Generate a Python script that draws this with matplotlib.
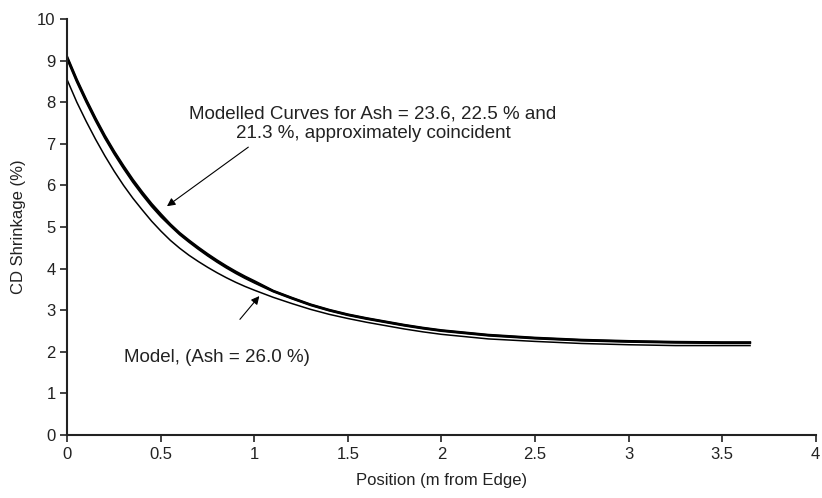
import numpy as np
import matplotlib
matplotlib.use("Agg")
import matplotlib.pyplot as plt

plt.rcParams["font.family"] = ["Liberation Sans", "DejaVu Sans"]

# position across the sheet (m from edge)
position = [0.0, 0.05, 0.1, 0.15, 0.2, 0.25, 0.3, 0.35, 0.4, 0.45, 0.5,
            0.55, 0.6, 0.65, 0.7, 0.75, 0.8, 0.85, 0.9, 0.95, 1.0,
            1.1, 1.2, 1.3, 1.4, 1.5, 1.6, 1.7, 1.8, 1.9, 2.0,
            2.25, 2.5, 2.75, 3.0, 3.25, 3.5, 3.65]

# modelled CD shrinkage (%) for each ash content
ash_23_6 = [9.08, 8.55, 8.07, 7.62, 7.20, 6.82, 6.47, 6.14, 5.84, 5.56, 5.31,
            5.07, 4.86, 4.68, 4.51, 4.35, 4.20, 4.06, 3.93, 3.81, 3.70,
            3.47, 3.30, 3.14, 3.01, 2.90, 2.81, 2.73, 2.65, 2.58, 2.52,
            2.41, 2.34, 2.29, 2.26, 2.24, 2.23, 2.23]
ash_22_5 = [9.05, 8.52, 8.04, 7.59, 7.17, 6.79, 6.44, 6.11, 5.81, 5.53, 5.28,
            5.05, 4.84, 4.66, 4.49, 4.33, 4.18, 4.04, 3.91, 3.79, 3.68,
            3.46, 3.29, 3.13, 3.00, 2.89, 2.80, 2.72, 2.64, 2.57, 2.51,
            2.40, 2.33, 2.28, 2.25, 2.23, 2.22, 2.22]
ash_21_3 = [9.02, 8.49, 8.01, 7.56, 7.14, 6.76, 6.41, 6.08, 5.78, 5.50, 5.25,
            5.03, 4.82, 4.64, 4.47, 4.31, 4.16, 4.02, 3.89, 3.77, 3.66,
            3.45, 3.28, 3.12, 2.99, 2.88, 2.79, 2.71, 2.63, 2.56, 2.50,
            2.39, 2.32, 2.27, 2.24, 2.22, 2.21, 2.21]
ash_26_0 = [8.52, 8.00, 7.54, 7.11, 6.71, 6.34, 6.00, 5.69, 5.41, 5.14, 4.90,
            4.68, 4.49, 4.32, 4.17, 4.03, 3.90, 3.78, 3.67, 3.57, 3.48,
            3.31, 3.16, 3.02, 2.90, 2.80, 2.71, 2.63, 2.55, 2.48, 2.42,
            2.31, 2.25, 2.20, 2.17, 2.15, 2.15, 2.15]

fig = plt.figure(figsize=(8.22, 4.98), dpi=100)
ax = fig.add_axes([0.0821, 0.1265, 0.9100, 0.8353])

for curve in (ash_23_6, ash_22_5, ash_21_3):
    ax.plot(position, curve, color="black", lw=1.5, solid_joinstyle="round")
ax.plot(position, ash_26_0, color="black", lw=1.1, solid_joinstyle="round")

arrow = dict(arrowstyle="-|>", lw=0.8, color="black",
             mutation_scale=12, shrinkA=0, shrinkB=0)

ax.text(1.634, 7.49,
        "Modelled Curves for Ash = 23.6, 22.5 % and\n21.3 %, approximately coincident",
        ha="center", va="center", multialignment="center",
        fontsize=13.5, color="#222222", linespacing=1.2)
ax.annotate("", xy=(0.532, 5.50), xytext=(0.967, 6.92), arrowprops=arrow)

ax.text(0.80, 1.875, "Model, (Ash = 26.0 %)",
        ha="center", va="center", fontsize=13.5, color="#222222")
ax.annotate("", xy=(1.026, 3.34), xytext=(0.922, 2.78), arrowprops=arrow)

ax.set_xlim(0, 4)
ax.set_ylim(0, 10)
ax.set_xticks(np.arange(0, 4.01, 0.5))
ax.set_xticklabels(["0", "0.5", "1", "1.5", "2", "2.5", "3", "3.5", "4"])
ax.set_yticks(range(0, 11))

ax.set_xlabel("Position (m from Edge)", fontsize=12, color="#222222", labelpad=8)
ax.set_ylabel("CD Shrinkage (%)", fontsize=12, color="#222222", labelpad=8)

ax.spines["top"].set_visible(False)
ax.spines["right"].set_visible(False)
for side in ("left", "bottom"):
    ax.spines[side].set_linewidth(1.5)
    ax.spines[side].set_color("#222222")
ax.tick_params(direction="out", length=5, width=1.2, labelsize=12,
               colors="#222222")

fig.savefig("out.png", dpi=100)
